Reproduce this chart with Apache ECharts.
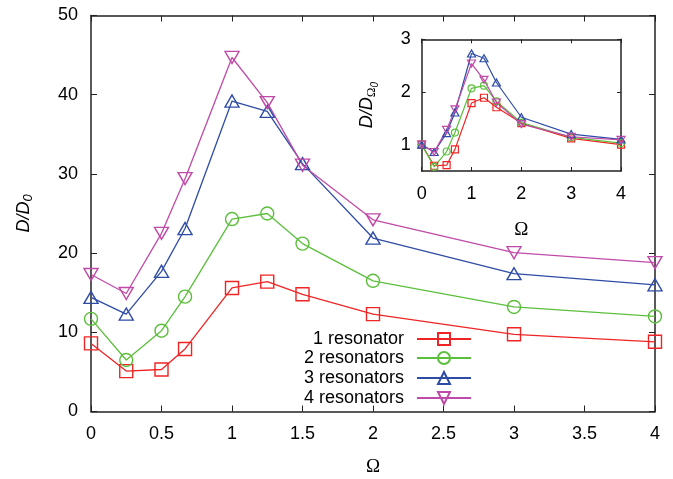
<!DOCTYPE html>
<html>
<head>
<meta charset="utf-8">
<script src="https://cdn.jsdelivr.net/npm/echarts@6/dist/echarts.min.js"></script>
<style>html,body{margin:0;padding:0;background:#fff}#c{width:673px;height:479px}</style>
</head>
<body>
<div id="c"></div>
<script>
const xValues = [0, 0.25, 0.5, 0.667, 1, 1.25, 1.5, 2, 3, 4];
const seriesNames = ['1 resonator', '2 resonators', '3 resonators', '4 resonators'];
const res1 = [8.6, 5.1, 5.3, 7.9, 15.6, 16.4, 14.8, 12.3, 9.75, 8.8];
const res2 = [11.7, 6.5, 10.2, 14.5, 24.3, 25.0, 21.2, 16.5, 13.2, 12.0];
const res3 = [14.4, 12.3, 17.7, 23.1, 39.2, 37.9, 31.3, 21.9, 17.4, 16.0];
const res4 = [17.3, 14.9, 22.5, 29.4, 44.7, 39.0, 31.1, 24.2, 20.05, 18.8];
const inset1 = [1.0, 0.60, 0.61, 0.91, 1.79, 1.89, 1.71, 1.41, 1.12, 1.0];
const inset2 = [1.0, 0.58, 0.87, 1.23, 2.07, 2.12, 1.82, 1.42, 1.14, 1.03];
const inset3 = [1.0, 0.86, 1.22, 1.61, 2.73, 2.64, 2.18, 1.52, 1.20, 1.10];
const inset4 = [1.0, 0.86, 1.28, 1.67, 2.54, 2.23, 1.80, 1.39, 1.15, 1.09];
const mainYTicks = [0, 10, 20, 30, 40, 50];
const insetYTicks = [1, 2, 3];

const colors = ['#f02424', '#5cbf3c', '#2e4ca6', '#c04aa8'];
const symbols = ['rect', 'circle', 'triangle', 'triangle'];
const rotations = [0, 0, 0, 180];
const mainSizes = [13, 13, [14, 12], [14, 12]];
const insetSizes = [7, 7, [8, 7], [8, 7]];

const zip = (ys) => xValues.map((x, i) => [x, ys[i]]);
const mainData = [res1, res2, res3, res4];
const insetData = [inset1, inset2, inset3, inset4];
const axisColor = '#222';
const font = 'Liberation Sans, Arial, sans-serif';

function frameAxes(gridIndex, isX, pos, opts) {
  return Object.assign({
    gridIndex: gridIndex, type: 'value', position: pos,
    axisLine: { show: true, onZero: false, lineStyle: { color: axisColor, width: 1.5 } },
    axisTick: { show: true, inside: true, length: 6, lineStyle: { color: axisColor, width: 1 } },
    axisLabel: { show: false },
    splitLine: { show: false }
  }, opts);
}

const series = [];
mainData.forEach((d, i) => {
  series.push({
    name: seriesNames[i], type: 'line', xAxisIndex: 0, yAxisIndex: 0,
    data: zip(d), symbol: symbols[i], symbolSize: mainSizes[i], symbolRotate: rotations[i],
    showAllSymbol: true, clip: false,
    lineStyle: { color: colors[i], width: 1.3 },
    itemStyle: { color: 'rgba(0,0,0,0)', borderColor: colors[i], borderWidth: 1.4 },
    emphasis: { disabled: true }
  });
});
insetData.forEach((d, i) => {
  series.push({
    name: 'inset ' + seriesNames[i], type: 'line', xAxisIndex: 2, yAxisIndex: 2,
    data: zip(d), symbol: symbols[i], symbolSize: insetSizes[i], symbolRotate: rotations[i],
    showAllSymbol: true, clip: false,
    lineStyle: { color: colors[i], width: 1.2 },
    itemStyle: { color: 'rgba(0,0,0,0)', borderColor: colors[i], borderWidth: 1.2 },
    emphasis: { disabled: true }
  });
});

const legendRowTops = [330, 349, 369, 389];
const legends = seriesNames.map((n, i) => ({
  data: [n], right: 201, top: legendRowTops[i], orient: 'vertical', align: 'right',
  padding: 0, itemWidth: 54, itemHeight: 15, selectedMode: false,
  textStyle: { fontSize: 18, color: '#000', fontFamily: font, padding: [0, 8, 0, 0] }
}));

const option = {
  animation: false,
  backgroundColor: '#fff',
  legend: legends,
  grid: [
    { left: 91, right: 18, top: 15.5, bottom: 67.5, outerBoundsMode: 'none', containLabel: false },
    { left: 421.7, width: 199.3, top: 39.3, height: 131.7, show: true, backgroundColor: '#fff', borderWidth: 0, outerBoundsMode: 'none', containLabel: false }
  ],
  xAxis: [
    frameAxes(0, true, 'bottom', {
      min: 0, max: 4, interval: 0.5,
      axisLabel: { show: true, fontSize: 18, color: '#000', fontFamily: font, margin: 14 },
      name: 'Ω', nameLocation: 'middle', nameGap: 46,
      nameTextStyle: { fontSize: 19, color: '#000', fontFamily: 'Liberation Serif, serif' }
    }),
    frameAxes(0, true, 'top', { min: 0, max: 4, interval: 0.5 }),
    frameAxes(1, true, 'bottom', {
      min: 0, max: 4, interval: 1,
      axisTick: { show: true, inside: true, length: 4, lineStyle: { color: axisColor, width: 1 } },
      axisLabel: { show: true, fontSize: 18, color: '#000', fontFamily: font, margin: 14 },
      name: 'Ω', nameLocation: 'middle', nameGap: 50,
      nameTextStyle: { fontSize: 19, color: '#000', fontFamily: 'Liberation Serif, serif' }
    }),
    frameAxes(1, true, 'top', {
      min: 0, max: 4, interval: 1,
      axisTick: { show: true, inside: true, length: 4, lineStyle: { color: axisColor, width: 1 } }
    })
  ],
  yAxis: [
    frameAxes(0, false, 'left', {
      min: 0, max: 50, interval: 10,
      axisLabel: { show: true, fontSize: 18, color: '#000', fontFamily: font, margin: 13 },
      name: '{m|D/D}{s|0}', nameLocation: 'middle', nameGap: 56,
      nameTextStyle: {
        color: '#000',
        rich: {
          m: { fontSize: 18, fontStyle: 'italic', fontFamily: font, color: '#000' },
          s: { fontSize: 13, fontStyle: 'italic', fontFamily: font, color: '#000', padding: [10, 0, 0, 0] }
        }
      }
    }),
    frameAxes(0, false, 'right', { min: 0, max: 50, interval: 10 }),
    frameAxes(1, false, 'left', {
      min: 0.5, max: 3, interval: 0.5,
      axisTick: { show: true, inside: true, length: 4, customValues: insetYTicks, lineStyle: { color: axisColor, width: 1 } },
      axisLabel: { show: true, fontSize: 18, color: '#000', fontFamily: font, margin: 11, customValues: insetYTicks },
      name: '{m|D/D}{s|Ω}{ss|0}', nameLocation: 'middle', nameGap: 41,
      nameTextStyle: {
        color: '#000',
        rich: {
          m: { fontSize: 18, fontStyle: 'italic', fontFamily: font, color: '#000' },
          s: { fontSize: 13, fontFamily: 'Liberation Serif, serif', color: '#000', padding: [9, 0, 0, 0] },
          ss: { fontSize: 10, fontStyle: 'italic', fontFamily: font, color: '#000', padding: [17, 0, 0, 0] }
        }
      }
    }),
    frameAxes(1, false, 'right', {
      min: 0.5, max: 3, interval: 0.5,
      axisTick: { show: true, inside: true, length: 4, customValues: insetYTicks, lineStyle: { color: axisColor, width: 1 } }
    })
  ],
  series: series
};

const chart = echarts.init(document.getElementById('c'), null, { renderer: 'canvas' });
chart.setOption(option);
</script>
</body>
</html>
